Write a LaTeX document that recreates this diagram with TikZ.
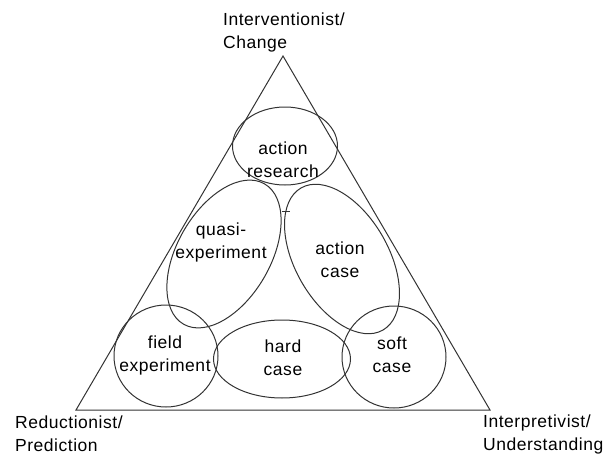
\documentclass[tikz,border=0pt]{standalone}
\usepackage{fontspec}
\setmainfont[LetterSpace=3]{Liberation Sans}
\usetikzlibrary{shapes.geometric,positioning}

\begin{document}
\begin{tikzpicture}[x=1pt,y=-1pt,
			region/.append style={shape=ellipse,
				draw=black!80,
				line width=1pt,
			inner sep=0pt},
			lbl/.style ={align=center, inner sep=0pt,
				font=\fontsize{17.5}{23}\selectfont},
			pole/.style ={align=left, inner sep=0pt,
				font=\fontsize{17.5}{23}\selectfont}]
			
			\useasboundingbox (0,0) rectangle (614,455);
			
			% triangle
			\coordinate (Top) at (283,56);
			\coordinate (Left) at (76,410);
			\coordinate (Right) at (490,410);
			\draw[black!80, line width=1pt] (Top) -- (Left) -- (Right) -- cycle;
			
			\node[pole, anchor=west] at (223,32) (TopL){Interventionist/\\Change};
			\node[pole, anchor=west] at (15,434) (LeftL){Reductionist/\\Prediction};
			\node[pole, anchor=west] at (483,434) (RightL){Interpretivist/\\Understanding};
			
			% regions
			\node[region, minimum width=105pt, minimum height=78pt] at (285,146) (AR){};
			\node[region, minimum width=162pt, minimum height=93pt, rotate=60] at (224,254) (QE){};
			\node[region, minimum width=164pt, minimum height=93pt, rotate=-60] at (342,259) (AC){};
			\node[region, minimum width=104pt, minimum height=102pt] at (166,356) (FE){};
			\node[region, minimum width=137pt, minimum height=78pt] at (282,359) (HC){};
			\node[region, minimum width=104pt, minimum height=102pt] at (394,357) (SC){};
			
			\coordinate (gapL) at (282,211);
			\coordinate (gapR) at (290,211);
			\draw[black!80, line width=1pt] (gapL) -- (gapR);
			
			\node[lbl] at (283,160) (ARt){action\\research};
			\node[lbl] at (221,242) (QEt){quasi-\\experiment};
			\node[lbl] at (340,260) (ACt){action\\case};
			\node[lbl] at (165,355) (FEt){field\\experiment};
			\node[lbl] at (283,358) (HCt){hard\\case};
			\node[lbl] at (392,355) (SCt){soft\\case};
		\end{tikzpicture}
\end{document}
